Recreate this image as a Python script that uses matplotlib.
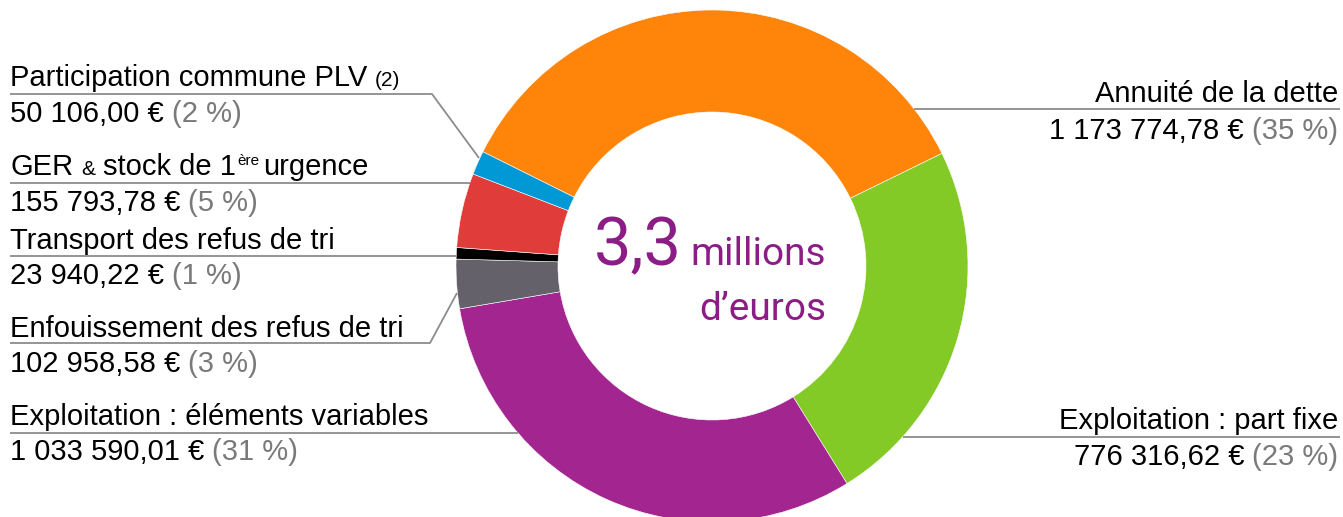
import matplotlib
matplotlib.use('Agg')
import matplotlib.pyplot as plt
import numpy as np

W, H = 1343, 517

# data
labels = ['Annuité de la dette', 'Exploitation : part fixe', 'Exploitation : éléments variables',
          'Enfouissement des refus de tri', 'Transport des refus de tri',
          'GER & stock de 1ère urgence', 'Participation commune PLV (2)']
values = [1173774.78, 776316.62, 1033590.01, 102958.58, 23940.22, 155793.78, 50106.00]
value_txt = ['1 173 774,78 €', '776 316,62 €', '1 033 590,01 €', '102 958,58 €',
             '23 940,22 €', '155 793,78 €', '50 106,00 €']
pct_txt = ['(35 %)', '(23 %)', '(31 %)', '(3 %)', '(1 %)', '(5 %)', '(2 %)']
colors = ['#FF840A', '#84CA26', '#A22590', '#65616B', '#000000', '#E03C39', '#0099D5']

FONT = 'Liberation Sans'
CFONT = 'Roboto'
BIG = 21
SMALL = 15
GREY_TXT = '#7a7a7a'
LINE_C = '#8c8c8c'

cx, cy, R, r_in = 712, 266, 256, 154

fig = plt.figure(figsize=(W / 100, H / 100), dpi=100)
ax = fig.add_axes([0, 0, 1, 1])

def Y(y):
    return H - y

ax.pie(values, colors=colors, startangle=153.5, counterclock=False,
       center=(cx, Y(cy)), radius=R,
       wedgeprops=dict(width=R - r_in, edgecolor='white', linewidth=0.4))
ax.set_xlim(0, W)
ax.set_ylim(0, H)
ax.set_aspect('equal')
ax.axis('off')

renderer = fig.canvas.get_renderer()

def runs(x, y, parts, ha='left'):
    # parts: (text, color, size, raise, gap before)
    cur = x
    made = []
    for s, col, size, rise, gap in parts:
        cur += gap
        t = ax.text(cur, Y(y) + rise, s, color=col, fontsize=size, family=FONT,
                    va='baseline', ha='left')
        made.append(t)
        cur += t.get_window_extent(renderer).width
    if ha == 'right':
        shift = x - cur
        for t in made:
            px, py = t.get_position()
            t.set_position((px + shift, py))

def edge_x(y, side):
    dy = y - cy
    return cx + side * np.sqrt(R ** 2 - dy ** 2)

def line(pts):
    xs = [p[0] for p in pts]
    ys = [Y(p[1]) for p in pts]
    ax.plot(xs, ys, color=LINE_C, lw=1.3, solid_capstyle='butt')

GAP = 8

# left labels
runs(10, 86, [('Participation commune PLV', 'black', BIG, 0, 0), ('(2)', 'black', SMALL, 0, GAP)])
runs(10, 122, [(value_txt[6], 'black', BIG, 0, 0), (pct_txt[6], GREY_TXT, BIG, 0, GAP)])
line([(10, 94), (432, 94), (479, 158)])

runs(10, 175, [('GER', 'black', BIG, 0, 0), ('&', 'black', SMALL, 0, GAP),
               ('stock de 1', 'black', BIG, 0, GAP), ('ère', 'black', 11, 10, 1),
               ('urgence', 'black', BIG, 0, 4)])
runs(10, 211, [(value_txt[5], 'black', BIG, 0, 0), (pct_txt[5], GREY_TXT, BIG, 0, GAP)])
line([(10, 183), (edge_x(183, -1), 183)])

runs(10, 249, [(labels[4], 'black', BIG, 0, 0)])
runs(10, 284, [(value_txt[4], 'black', BIG, 0, 0), (pct_txt[4], GREY_TXT, BIG, 0, GAP)])
line([(10, 256), (edge_x(256, -1), 256)])

runs(10, 337, [(labels[3], 'black', BIG, 0, 0)])
runs(10, 372, [(value_txt[3], 'black', BIG, 0, 0), (pct_txt[3], GREY_TXT, BIG, 0, GAP)])
line([(10, 343), (430, 343), (457, 293)])

runs(10, 425, [(labels[2], 'black', BIG, 0, 0)])
runs(10, 460, [(value_txt[2], 'black', BIG, 0, 0), (pct_txt[2], GREY_TXT, BIG, 0, GAP)])
line([(10, 433), (edge_x(433, -1), 433)])

# right labels
runs(1338, 102, [(labels[0], 'black', BIG, 0, 0)], ha='right')
runs(1338, 139, [(value_txt[0], 'black', BIG, 0, 0), (pct_txt[0], GREY_TXT, BIG, 0, GAP)], ha='right')
line([(edge_x(109, 1), 109), (1340, 109)])

runs(1338, 429, [(labels[1], 'black', BIG, 0, 0)], ha='right')
runs(1338, 465, [(value_txt[1], 'black', BIG, 0, 0), (pct_txt[1], GREY_TXT, BIG, 0, GAP)], ha='right')
line([(edge_x(437, 1), 437), (1340, 437)])

# centre text
CTR = '#8C1C86'
ax.text(682, Y(265), '3,3', color=CTR, fontsize=48, family=CFONT,
        va='baseline', ha='right')
ax.text(826, Y(265), 'millions', color=CTR, fontsize=28, family=CFONT,
        va='baseline', ha='right')
ax.text(826, Y(320), 'd\u2019euros', color=CTR, fontsize=28, family=CFONT,
        va='baseline', ha='right')

fig.savefig('out.png', dpi=100)
